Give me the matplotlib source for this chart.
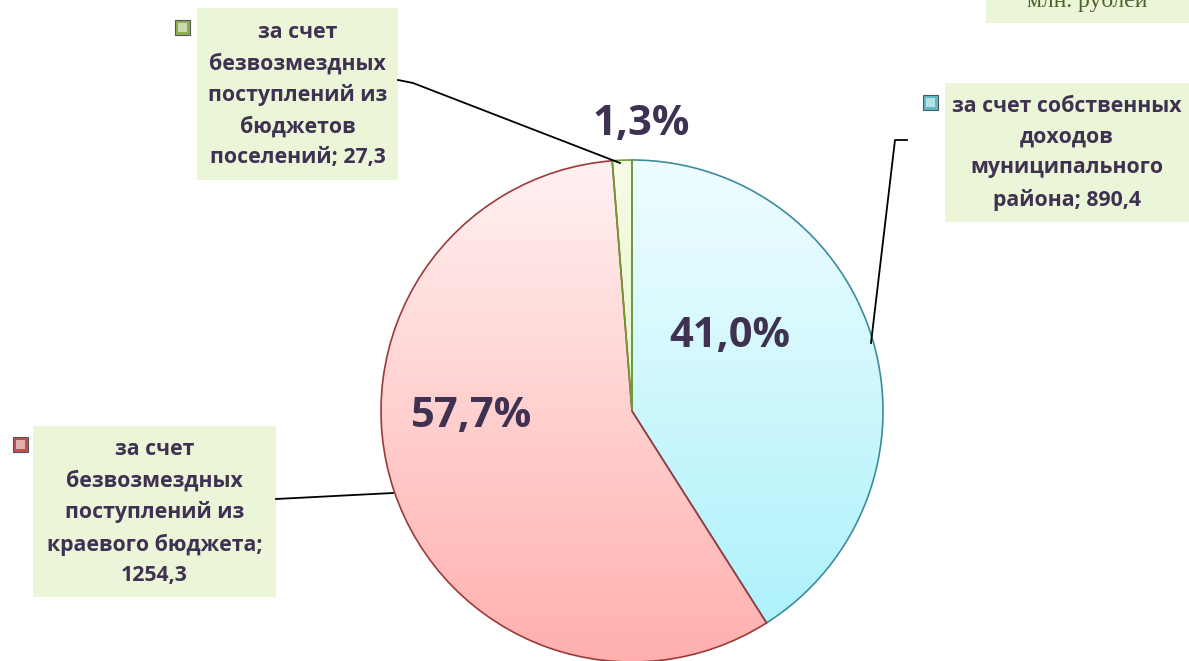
import matplotlib.pyplot as plt
import numpy as np
from matplotlib.colors import LinearSegmentedColormap
from matplotlib.patches import Rectangle

plt.rcParams['font.family'] = ['Open Sans', 'DejaVu Sans']

# data (млн. рублей)
labels = ['за счет собственных\nдоходов\nмуниципального\nрайона; 890,4',
          'за счет\nбезвозмездных\nпоступлений из\nкраевого бюджета;\n1254,3',
          'за счет\nбезвозмездных\nпоступлений из\nбюджетов\nпоселений; 27,3']
values = [890.4, 1254.3, 27.3]
pct_text = ['41,0%', '57,7%', '1,3%']

# gradient colors (top, bottom) and edges for each slice
grad_top = ['#effdff', '#fff1f1', '#f6fbe6']
grad_bot = ['#a9f1fb', '#ffb0ae', '#dcefb8']
edges = ['#3d8c9c', '#9c3a3a', '#6e9a2e']
marker_cols = ['#5bbccc', '#c05050', '#8cb050']

W, H = 1189, 661
fig = plt.figure(figsize=(W / 100, H / 100), dpi=100)
ax = fig.add_axes([0, 0, 1, 1])

cx, cy, r = 632, H - 411, 251
wedges, _ = ax.pie(values, startangle=90, counterclock=False, center=(cx, cy),
                   radius=r, frame=True,
                   wedgeprops=dict(linewidth=1.2))

grad = np.linspace(0, 1, 256).reshape(-1, 1)
for w, c0, c1, ec in zip(wedges, grad_top, grad_bot, edges):
    w.set_facecolor('none')
    w.set_edgecolor(ec)
    w.set_zorder(3)
    cmap = LinearSegmentedColormap.from_list('g', [c1, c0])
    im = ax.imshow(grad, cmap=cmap, extent=(cx - r, cx + r, cy - r, cy + r),
                   origin='lower', aspect='auto', zorder=2)
    im.set_clip_path(w)

ax.set_xlim(0, W)
ax.set_ylim(0, H)
ax.set_aspect('equal')
ax.axis('off')

# percentage labels
pct_pos = [(730, 337), (472, 416), (641, 124)]
for t, (x, y) in zip(pct_text, pct_pos):
    ax.text(x, H - y, t, ha='center', va='center', fontsize=30,
            fontweight='bold', color='#3f3151', zorder=5)

# label boxes (x0, y0, x1, y1 in pixels from top) and marker squares
boxes = [(945, 83, 1189, 222), (33, 426, 276, 597), (197, 8, 398, 180)]
markers = [(923, 95), (13, 437), (175, 20)]
for lab, (x0, y0, x1, y1), (mx, my), mc in zip(labels, boxes, markers, marker_cols):
    ax.add_patch(Rectangle((x0, H - y1), x1 - x0, y1 - y0, facecolor='#ebf5d8',
                           edgecolor='none', zorder=4))
    ax.text((x0 + x1) / 2, H - (y0 + y1) / 2 - 1, lab, ha='center', va='center',
            fontsize=15.3, fontweight='bold', color='#3f3151', linespacing=1.6,
            zorder=5)
    ax.add_patch(Rectangle((mx, H - my - 15), 15, 15, facecolor=mc,
                           edgecolor='#555555', linewidth=0.8, zorder=5))
    ax.add_patch(Rectangle((mx + 3, H - my - 12), 9, 9, facecolor='white',
                           alpha=0.55, edgecolor='none', zorder=6))

# leader lines
leaders = [[(907, 140), (895, 140), (871, 343)],
           [(276, 499), (393, 493)],
           [(398, 80), (413, 83), (620, 163)]]
for pts in leaders:
    xs = [p[0] for p in pts]
    ys = [H - p[1] for p in pts]
    ax.plot(xs, ys, color='black', lw=1.3, zorder=4)

# units box, cut off at the top as in the source
ax.add_patch(Rectangle((986, H - 23), W - 986, 30, facecolor='#ebf5d8',
                       edgecolor='none', zorder=4))
ax.text(1087, H - 1, 'млн. рублей', ha='center', va='center', fontsize=17,
        family='Liberation Serif', color='#4f6228', zorder=5)

fig.savefig('out.png', dpi=100)
